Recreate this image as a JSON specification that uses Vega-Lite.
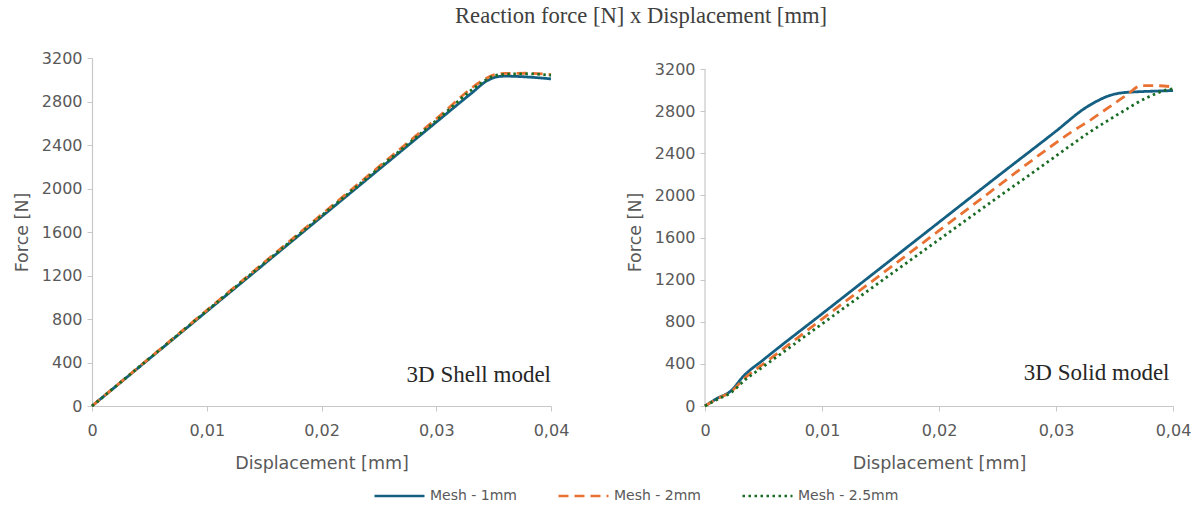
{
  "$schema": "https://vega.github.io/schema/vega-lite/v6.json",
  "padding": {"left": 13, "top": 5, "right": 2, "bottom": 2},
  "title": {"text": "Reaction force [N] x Displacement [mm]", "font": "Liberation Serif", "fontSize": 22.6, "fontWeight": "normal", "color": "#404040", "anchor": "middle", "dx": 39, "offset": 22},
  "datasets": {
    "shell": [
      {"mesh": "Mesh - 1mm", "d": 0, "f": 0},
      {"mesh": "Mesh - 1mm", "d": 0.005, "f": 435},
      {"mesh": "Mesh - 1mm", "d": 0.01, "f": 870},
      {"mesh": "Mesh - 1mm", "d": 0.015, "f": 1305},
      {"mesh": "Mesh - 1mm", "d": 0.02, "f": 1740},
      {"mesh": "Mesh - 1mm", "d": 0.025, "f": 2175},
      {"mesh": "Mesh - 1mm", "d": 0.03, "f": 2610},
      {"mesh": "Mesh - 1mm", "d": 0.033, "f": 2870},
      {"mesh": "Mesh - 1mm", "d": 0.0345, "f": 2995},
      {"mesh": "Mesh - 1mm", "d": 0.0352, "f": 3025},
      {"mesh": "Mesh - 1mm", "d": 0.036, "f": 3033},
      {"mesh": "Mesh - 1mm", "d": 0.038, "f": 3025},
      {"mesh": "Mesh - 1mm", "d": 0.04, "f": 3008},
      {"mesh": "Mesh - 2mm", "d": 0, "f": 0},
      {"mesh": "Mesh - 2mm", "d": 0.01, "f": 880},
      {"mesh": "Mesh - 2mm", "d": 0.02, "f": 1760},
      {"mesh": "Mesh - 2mm", "d": 0.03, "f": 2640},
      {"mesh": "Mesh - 2mm", "d": 0.034, "f": 2990},
      {"mesh": "Mesh - 2mm", "d": 0.035, "f": 3045},
      {"mesh": "Mesh - 2mm", "d": 0.036, "f": 3058},
      {"mesh": "Mesh - 2mm", "d": 0.038, "f": 3060},
      {"mesh": "Mesh - 2mm", "d": 0.04, "f": 3048},
      {"mesh": "Mesh - 2.5mm", "d": 0, "f": 0},
      {"mesh": "Mesh - 2.5mm", "d": 0.01, "f": 875},
      {"mesh": "Mesh - 2.5mm", "d": 0.02, "f": 1750},
      {"mesh": "Mesh - 2.5mm", "d": 0.03, "f": 2625},
      {"mesh": "Mesh - 2.5mm", "d": 0.034, "f": 2975},
      {"mesh": "Mesh - 2.5mm", "d": 0.035, "f": 3035},
      {"mesh": "Mesh - 2.5mm", "d": 0.036, "f": 3050},
      {"mesh": "Mesh - 2.5mm", "d": 0.038, "f": 3055},
      {"mesh": "Mesh - 2.5mm", "d": 0.04, "f": 3040}
    ],
    "solid": [
      {"mesh": "Mesh - 1mm", "d": 0, "f": 0},
      {"mesh": "Mesh - 1mm", "d": 0.001, "f": 70},
      {"mesh": "Mesh - 1mm", "d": 0.0022, "f": 142},
      {"mesh": "Mesh - 1mm", "d": 0.0033, "f": 285},
      {"mesh": "Mesh - 1mm", "d": 0.005, "f": 440},
      {"mesh": "Mesh - 1mm", "d": 0.01, "f": 875},
      {"mesh": "Mesh - 1mm", "d": 0.015, "f": 1310},
      {"mesh": "Mesh - 1mm", "d": 0.02, "f": 1745},
      {"mesh": "Mesh - 1mm", "d": 0.025, "f": 2180},
      {"mesh": "Mesh - 1mm", "d": 0.03, "f": 2610},
      {"mesh": "Mesh - 1mm", "d": 0.0325, "f": 2830},
      {"mesh": "Mesh - 1mm", "d": 0.0335, "f": 2895},
      {"mesh": "Mesh - 1mm", "d": 0.0345, "f": 2945},
      {"mesh": "Mesh - 1mm", "d": 0.0355, "f": 2972},
      {"mesh": "Mesh - 1mm", "d": 0.037, "f": 2984},
      {"mesh": "Mesh - 1mm", "d": 0.0385, "f": 2990},
      {"mesh": "Mesh - 1mm", "d": 0.04, "f": 2995},
      {"mesh": "Mesh - 2mm", "d": 0, "f": 0},
      {"mesh": "Mesh - 2mm", "d": 0.001, "f": 65},
      {"mesh": "Mesh - 2mm", "d": 0.0022, "f": 135},
      {"mesh": "Mesh - 2mm", "d": 0.0035, "f": 275},
      {"mesh": "Mesh - 2mm", "d": 0.005, "f": 400},
      {"mesh": "Mesh - 2mm", "d": 0.01, "f": 825},
      {"mesh": "Mesh - 2mm", "d": 0.015, "f": 1245},
      {"mesh": "Mesh - 2mm", "d": 0.02, "f": 1665},
      {"mesh": "Mesh - 2mm", "d": 0.025, "f": 2085},
      {"mesh": "Mesh - 2mm", "d": 0.0281, "f": 2345},
      {"mesh": "Mesh - 2mm", "d": 0.0313, "f": 2600},
      {"mesh": "Mesh - 2mm", "d": 0.033, "f": 2720},
      {"mesh": "Mesh - 2mm", "d": 0.0345, "f": 2835},
      {"mesh": "Mesh - 2mm", "d": 0.036, "f": 2950},
      {"mesh": "Mesh - 2mm", "d": 0.0373, "f": 3042},
      {"mesh": "Mesh - 2mm", "d": 0.0385, "f": 3042},
      {"mesh": "Mesh - 2mm", "d": 0.04, "f": 3030},
      {"mesh": "Mesh - 2.5mm", "d": 0, "f": 0},
      {"mesh": "Mesh - 2.5mm", "d": 0.001, "f": 60},
      {"mesh": "Mesh - 2.5mm", "d": 0.0022, "f": 125},
      {"mesh": "Mesh - 2.5mm", "d": 0.0035, "f": 255},
      {"mesh": "Mesh - 2.5mm", "d": 0.005, "f": 375},
      {"mesh": "Mesh - 2.5mm", "d": 0.01, "f": 780},
      {"mesh": "Mesh - 2.5mm", "d": 0.015, "f": 1180},
      {"mesh": "Mesh - 2.5mm", "d": 0.02, "f": 1580},
      {"mesh": "Mesh - 2.5mm", "d": 0.025, "f": 1980},
      {"mesh": "Mesh - 2.5mm", "d": 0.0287, "f": 2270},
      {"mesh": "Mesh - 2.5mm", "d": 0.031, "f": 2455},
      {"mesh": "Mesh - 2.5mm", "d": 0.033, "f": 2610},
      {"mesh": "Mesh - 2.5mm", "d": 0.0345, "f": 2715},
      {"mesh": "Mesh - 2.5mm", "d": 0.0356, "f": 2790},
      {"mesh": "Mesh - 2.5mm", "d": 0.0379, "f": 2935},
      {"mesh": "Mesh - 2.5mm", "d": 0.0396, "f": 3005},
      {"mesh": "Mesh - 2.5mm", "d": 0.04, "f": 3012}
    ],
    "shellNote": [{"d": 0.04, "f": 220, "label": "3D Shell model"}],
    "solidNote": [{"d": 0.0397, "f": 247, "label": "3D Solid model"}],
    "solidAxis": [{"d": 0, "f": 0, "f2": 3200}]
  },
  "spacing": 57,
  "hconcat": [
    {
      "width": 459,
      "height": 348,
      "layer": [
        {
          "data": {"name": "shell"},
          "mark": {"type": "line", "strokeWidth": 2.8, "interpolate": "monotone"},
          "encoding": {
            "x": {"field": "d", "type": "quantitative", "scale": {"domain": [0, 0.04], "nice": false}, "axis": {"title": "Displacement [mm]", "values": [0, 0.01, 0.02, 0.03, 0.04], "labelExpr": "replace(format(datum.value, '.2~f'), '.', ',')"}},
            "y": {"field": "f", "type": "quantitative", "scale": {"domain": [0, 3200], "nice": false}, "axis": {"title": "Force [N]", "format": "d", "values": [0, 400, 800, 1200, 1600, 2000, 2400, 2800, 3200]}},
            "color": {"field": "mesh", "type": "nominal", "scale": {"domain": ["Mesh - 1mm", "Mesh - 2mm", "Mesh - 2.5mm"], "range": ["#156082", "#E97132", "#196B24"]}, "legend": {"title": null}},
            "strokeDash": {"field": "mesh", "type": "nominal", "scale": {"domain": ["Mesh - 1mm", "Mesh - 2mm", "Mesh - 2.5mm"], "range": [[1, 0], [10, 6], [2.5, 3.5]]}, "legend": {"title": null}}
          }
        },
        {
          "data": {"name": "shellNote"},
          "mark": {"type": "text", "align": "right", "baseline": "alphabetic", "font": "Liberation Serif", "fontSize": 23, "color": "#262626"},
          "encoding": {
            "x": {"field": "d", "type": "quantitative"},
            "y": {"field": "f", "type": "quantitative"},
            "text": {"field": "label"}
          }
        }
      ]
    },
    {
      "width": 468,
      "height": 348,
      "layer": [
        {
          "data": {"name": "solidAxis"},
          "mark": {"type": "rule", "color": "#C8C8C8", "strokeWidth": 1.2},
          "encoding": {
            "x": {"field": "d", "type": "quantitative"},
            "y": {"field": "f", "type": "quantitative"},
            "y2": {"field": "f2"}
          }
        },
        {
          "data": {"name": "solid"},
          "mark": {"type": "line", "strokeWidth": 2.8, "interpolate": "monotone"},
          "encoding": {
            "x": {"field": "d", "type": "quantitative", "scale": {"domain": [0, 0.04], "nice": false}, "axis": {"title": "Displacement [mm]", "values": [0, 0.01, 0.02, 0.03, 0.04], "labelExpr": "replace(format(datum.value, '.2~f'), '.', ',')"}},
            "y": {"field": "f", "type": "quantitative", "scale": {"domain": [0, 3304.6], "nice": false}, "axis": {"title": "Force [N]", "format": "d", "domain": false, "values": [0, 400, 800, 1200, 1600, 2000, 2400, 2800, 3200]}},
            "color": {"field": "mesh", "type": "nominal", "scale": {"domain": ["Mesh - 1mm", "Mesh - 2mm", "Mesh - 2.5mm"], "range": ["#156082", "#E97132", "#196B24"]}, "legend": {"title": null}},
            "strokeDash": {"field": "mesh", "type": "nominal", "scale": {"domain": ["Mesh - 1mm", "Mesh - 2mm", "Mesh - 2.5mm"], "range": [[1, 0], [10, 6], [2.5, 3.5]]}, "legend": {"title": null}}
          }
        },
        {
          "data": {"name": "solidNote"},
          "mark": {"type": "text", "align": "right", "baseline": "alphabetic", "font": "Liberation Serif", "fontSize": 23, "color": "#262626"},
          "encoding": {
            "x": {"field": "d", "type": "quantitative"},
            "y": {"field": "f", "type": "quantitative"},
            "text": {"field": "label"}
          }
        }
      ]
    }
  ],
  "config": {
    "view": {"stroke": null},
    "axis": {
      "grid": false,
      "domainColor": "#C8C8C8",
      "domainWidth": 1.2,
      "tickColor": "#C8C8C8",
      "tickSize": 5,
      "labelPadding": 5,
      "labelFlush": false,
      "labelFont": "DejaVu Sans",
      "labelFontSize": 16,
      "labelColor": "#595959",
      "titleFont": "DejaVu Sans",
      "titleFontSize": 17.5,
      "titleFontWeight": "normal",
      "titleColor": "#595959",
      "titlePadding": 10
    },
    "axisX": {"labelPadding": 11, "titlePadding": 16},
    "legend": {
      "orient": "none",
      "legendX": 281,
      "legendY": 428,
      "direction": "horizontal",
      "symbolType": "stroke",
      "symbolSize": 2500,
      "symbolStrokeWidth": 2.5,
      "clipHeight": 20,
      "labelFont": "DejaVu Sans",
      "labelFontSize": 14,
      "labelColor": "#595959",
      "labelOffset": 4,
      "columnPadding": 40
    }
  }
}
